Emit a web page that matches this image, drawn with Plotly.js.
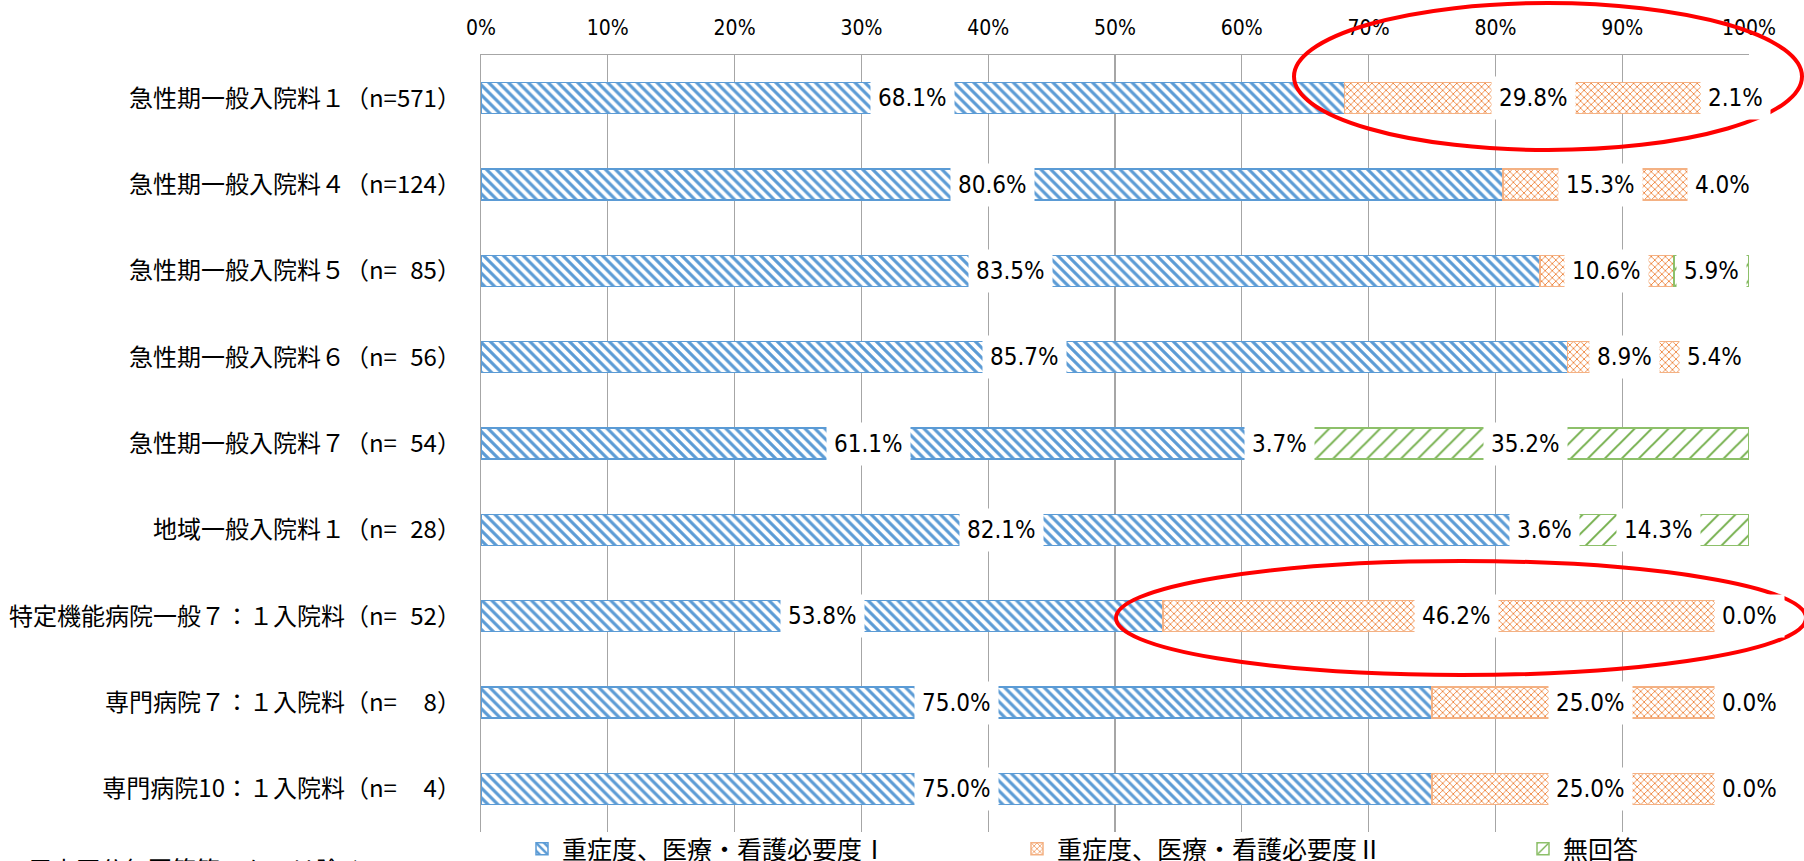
<!DOCTYPE html>
<html>
<head>
<meta charset="utf-8">
<script src="https://cdn.plot.ly/plotly-3.0.1.min.js"></script>
<style>html,body{margin:0;padding:0;background:#fff;}#chart{width:1804px;height:861px;}</style>
</head>
<body>
<div id="chart"></div>
<script>
const categories = [
  '急性期一般入院料１（n=571）',
  '急性期一般入院料４（n=124）',
  '急性期一般入院料５（n=\u200785）',
  '急性期一般入院料６（n=\u200756）',
  '急性期一般入院料７（n=\u200754）',
  '地域一般入院料１（n=\u200728）',
  '特定機能病院一般７：１入院料（n=\u200752）',
  '専門病院７：１入院料（n=\u2007\u20078）',
  '専門病院10：１入院料（n=\u2007\u20074）'
];
const seriesNames = ['重症度、医療・看護必要度Ⅰ', '重症度、医療・看護必要度Ⅱ', '無回答'];
const level1 = [68.1, 80.6, 83.5, 85.7, 61.1, 82.1, 53.8, 75.0, 75.0];
const level2 = [29.8, 15.3, 10.6, 8.9, 3.7, 3.6, 46.2, 25.0, 25.0];
const noAnswer = [2.1, 4.0, 5.9, 5.4, 35.2, 14.3, 0.0, 0.0, 0.0];
const tickVals = [0, 10, 20, 30, 40, 50, 60, 70, 80, 90, 100];

// layout geometry (pixels)
const W = 1804, H = 861;
const PL = 481, PR = 1749, PT = 55, PB = 832;
const px2x = p => (p - PL) / (PR - PL);
const px2y = p => (PB - p) / (PB - PT);

const numFont = 'Liberation Sans Narrow, DejaVu Sans Condensed, Arial Narrow, sans-serif';
const jpFont = 'Noto Sans CJK JP, sans-serif';

const styles = [
  {pattern: {shape: '\\', fgcolor: '#5B9BD5', bgcolor: '#ffffff', size: 7, solidity: 0.45}, line: {color: '#5B9BD5', width: 1.5}},
  {pattern: {shape: 'x', fgcolor: '#ED7D31', bgcolor: '#ffffff', size: 5, solidity: 0.3}, line: {color: '#F4B183', width: 1.5}},
  {pattern: {shape: '/', fgcolor: '#70AD47', bgcolor: '#ffffff', size: 12, solidity: 0.16}, line: {color: '#8DC06A', width: 1.5}}
];
const allSeries = [level1, level2, noAnswer];
const legendIds = ['legend', 'legend2', 'legend3'];
const legendPx = [522, 1017, 1523];

const traces = allSeries.map((vals, i) => ({
  type: 'bar',
  orientation: 'h',
  name: seriesNames[i],
  legend: legendIds[i],
  y: categories,
  x: vals,
  marker: {color: '#ffffff', pattern: styles[i].pattern, line: styles[i].line},
  hoverinfo: 'skip'
}));

const annotations = [];
categories.forEach((c, r) => {
  let cum = 0;
  allSeries.forEach((vals) => {
    const v = vals[r];
    annotations.push({
      x: cum + v / 2, y: c, xref: 'x', yref: 'y',
      text: v.toFixed(1) + '%', showarrow: false,
      font: {family: numFont, size: 24, color: '#000'},
      bgcolor: '#ffffff', borderpad: 7
    });
    cum += v;
  });
});
annotations.push({
  xref: 'paper', yref: 'paper', x: px2x(2), y: px2y(849),
  xanchor: 'left', yanchor: 'top', showarrow: false,
  text: '※届出区分無回答等のものは除く',
  font: {family: jpFont, size: 24, color: '#000'}
});

const shapes = [
  {type: 'circle', xref: 'paper', yref: 'paper', x0: px2x(1294), x1: px2x(1802), y0: px2y(3), y1: px2y(150), line: {color: '#FF0000', width: 4}},
  {type: 'circle', xref: 'paper', yref: 'paper', x0: px2x(1116), x1: px2x(1806), y0: px2y(561), y1: px2y(675), line: {color: '#FF0000', width: 4}}
];

const layout = {
  width: W, height: H,
  margin: {l: PL, r: W - PR, t: PT, b: H - PB, pad: 0, autoexpand: false},
  paper_bgcolor: '#ffffff', plot_bgcolor: '#ffffff',
  barmode: 'stack', bargap: 0.64,
  showlegend: true,
  annotations: annotations,
  shapes: shapes,
  xaxis: {
    side: 'top', range: [0, 100], tickvals: tickVals, ticktext: tickVals.map(v => v + '%'),
    showgrid: true, gridcolor: '#A6A6A6', gridwidth: 1.3,
    showline: true, linecolor: '#A6A6A6', linewidth: 1.3,
    ticks: 'outside', ticklen: 10, tickcolor: 'rgba(0,0,0,0)',
    tickfont: {family: numFont, size: 21, color: '#000'},
    zeroline: false, fixedrange: true, automargin: false
  },
  yaxis: {
    type: 'category', categoryorder: 'array', categoryarray: categories, autorange: 'reversed',
    showgrid: false, showline: true, linecolor: '#A6A6A6', linewidth: 1.3,
    ticks: 'outside', ticklen: 14, tickcolor: 'rgba(0,0,0,0)',
    tickfont: {family: jpFont, size: 24, color: '#000'},
    zeroline: false, fixedrange: true, automargin: false
  }
};
legendIds.forEach((id, i) => {
  layout[id] = {
    orientation: 'h', x: px2x(legendPx[i]), y: px2y(849), xanchor: 'left', yanchor: 'middle',
    xref: 'paper', yref: 'paper',
    font: {family: jpFont, size: 25, color: '#000'},
    bgcolor: 'rgba(0,0,0,0)', itemwidth: 30
  };
});

Plotly.newPlot('chart', traces, layout, {displayModeBar: false, staticPlot: true});
</script>
</body>
</html>
